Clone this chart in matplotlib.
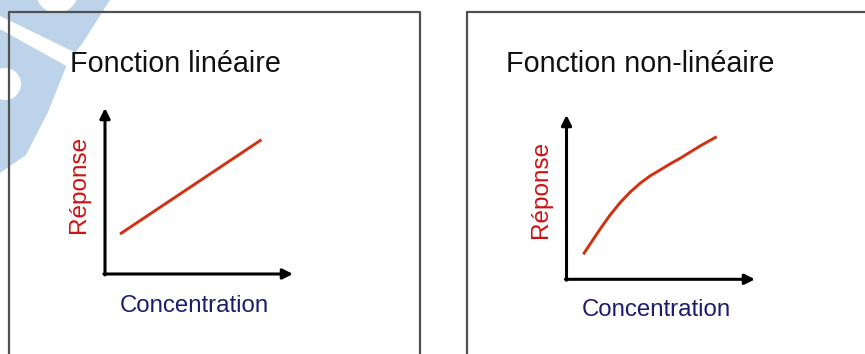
import matplotlib
matplotlib.use("Agg")
import matplotlib.pyplot as plt
from matplotlib.patches import Polygon, Circle

plt.rcParams['font.family'] = ['Liberation Sans', 'DejaVu Sans']

#Data (axes run 0..10 on both sides)
titles = ["Fonction linéaire", "Fonction non-linéaire"]
xlabel = "Concentration"
ylabel = "Réponse"
lin_x = [0.8, 8.32]
lin_y = [2.41, 8.09]
nonlin_x = [0.89, 1.51, 1.87, 2.31, 2.84, 3.37, 3.90, 4.43, 4.96, 5.49, 6.02, 6.46, 7.17, 7.97]
nonlin_y = [1.52, 2.59, 3.20, 3.91, 4.66, 5.30, 5.84, 6.29, 6.65, 7.02, 7.36, 7.67, 8.17, 8.68]

W, H = 865, 354
fig = plt.figure(figsize=(W/100, H/100), dpi=100)

#background axes in pixel coords, y going down like the picture
bg = fig.add_axes([0, 0, 1, 1])
bg.set_xlim(0, W)
bg.set_ylim(H, 0)
bg.axis('off')

#light blue watermark in the top left corner
wm = '#bdd3ea'
bg.add_patch(Polygon([(0, 0), (110, 0), (82, 44), (68, 62), (48, 112), (26, 155), (0, 173)],
                     closed=True, fc=wm, ec='none', zorder=0))
bg.add_patch(Polygon([(0, 16), (74, 52), (70, 68), (0, 29)],
                     closed=True, fc='white', ec='none', zorder=0.5))
bg.add_patch(Circle((57, -8), 21, fc='white', ec='none', zorder=0.5))
bg.add_patch(Circle((5, 84), 16, fc='white', ec='none', zorder=0.5))

#the two frames, both run off the bottom of the picture
box_col = '#505050'
bg.plot([9, 9, 420, 420], [H + 5, 12, 12, H + 5], color=box_col, lw=1.6, zorder=1)
bg.plot([467, 467, W + 5], [H + 5, 12, 12], color=box_col, lw=1.6, zorder=1)

#titles and labels
title_x = [70, 506]
label_x = [194, 656]
label_y = [311.5, 316.5]
ylab_pos = [(79, 184.5), (541, 189.5)]
for i in range(2):
	bg.text(title_x[i], 71.7, titles[i], fontsize=20.7, color='#111111', ha='left', va='baseline')
	bg.text(label_x[i], label_y[i], xlabel, fontsize=17.3, color='#1c1c70', ha='center', va='baseline')
	bg.text(ylab_pos[i][0], ylab_pos[i][1], ylabel, fontsize=17.5, color='#d01010',
			rotation=90, ha='center', va='center')

#axes position from pixel origin and arrow tips
def make_axes(x0, y0, x1, y1):
	ax = fig.add_axes([x0/W, (H - y0)/H, (x1 - x0)/W, (y0 - y1)/H])
	ax.set_xlim(0, 10)
	ax.set_ylim(0, 10)
	ax.axis('off')
	arrow = dict(arrowstyle='-|>', lw=2.2, color='black', mutation_scale=15, shrinkA=0, shrinkB=0)
	ax.annotate('', xy=(1, 0), xytext=(-0.006, 0), xycoords='axes fraction', arrowprops=arrow)
	ax.annotate('', xy=(0, 1), xytext=(0, -0.006), xycoords='axes fraction', arrowprops=arrow)
	return ax

ax1 = make_axes(105, 274, 293, 108)
ax1.plot(lin_x, lin_y, color='#d2300f', lw=2.1, solid_capstyle='butt', clip_on=False)

ax2 = make_axes(566.5, 279.3, 755, 115)
ax2.plot(nonlin_x, nonlin_y, color='#d2300f', lw=2.1, solid_capstyle='butt',
		 solid_joinstyle='round', clip_on=False)

fig.savefig('out.png', dpi=100)
